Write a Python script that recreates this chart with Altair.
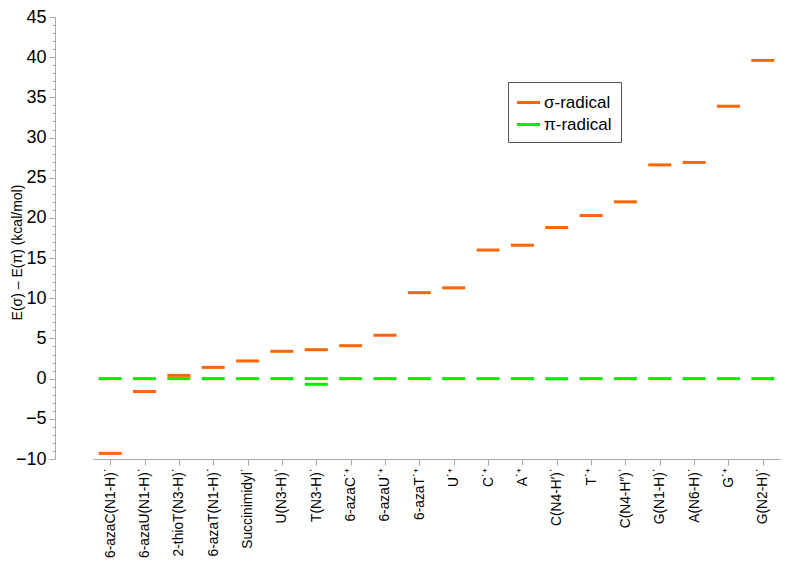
import altair as alt
import pandas as pd

categories = [
    "6-azaC(N1-H)\u02D9", "6-azaU(N1-H)\u02D9", "2-thioT(N3-H)\u02D9", "6-azaT(N1-H)\u02D9",
    "Succinimidyl\u02D9", "U(N3-H)\u02D9", "T(N3-H)\u02D9", "6-azaC\u02D9\u207A",
    "6-azaU\u02D9\u207A", "6-azaT\u02D9\u207A", "U\u02D9\u207A", "C\u02D9\u207A", "A\u02D9\u207A",
    "C(N4-H\u2032)\u02D9", "T\u02D9\u207A", "C(N4-H\u2033)\u02D9", "G(N1-H)\u02D9",
    "A(N6-H)\u02D9", "G\u02D9\u207A", "G(N2-H)\u02D9",
]
sigma_values = [-9.3, -1.6, 0.4, 1.4, 2.2, 3.4, 3.6, 4.1, 5.4, 10.7,
                11.3, 16.0, 16.6, 18.8, 20.3, 22.0, 26.6, 26.9, 33.9, 39.6]
pi_values = [0.0] * 20
pi_extra_category = ["T(N3-H)\u02D9"]
pi_extra_values = [-0.7]

rows = []
for c, v in zip(categories, sigma_values):
    rows.append({"cat": c, "val": v, "series": "σ-radical"})
for c, v in zip(categories, pi_values):
    rows.append({"cat": c, "val": v, "series": "π-radical"})
for c, v in zip(pi_extra_category, pi_extra_values):
    rows.append({"cat": c, "val": v, "series": "π-radical"})
df = pd.DataFrame(rows)

FONT = "Liberation Sans"
AXIS_GRAY = "#A8A8A8"

chart = alt.Chart(df).mark_tick(size=23, thickness=3, opacity=1).encode(
    x=alt.X("cat:N", sort=categories,
            scale=alt.Scale(type="point", range=[38, 725]),
            axis=alt.Axis(title=None, labelAngle=-90, labelFont=FONT, labelFontSize=13.8,
                          labelColor="black", labelPadding=2, tickSize=6, tickColor=AXIS_GRAY,
                          domainColor=AXIS_GRAY, grid=False, labelOverlap=False)),
    y=alt.Y("val:Q",
            scale=alt.Scale(domain=[-10, 45], nice=False, zero=False),
            axis=alt.Axis(title="E(σ) – E(π) (kcal/mol)", values=list(range(-10, 46)),
                          labelExpr="datum.value % 5 === 0 ? datum.label : ''",
                          labelOverlap=False, labelFont=FONT, labelFontSize=18,
                          labelColor="black", labelPadding=3,
                          tickSize={"condition": {"test": "datum.value % 5 === 0", "value": 6}, "value": 3},
                          tickColor=AXIS_GRAY, domainColor=AXIS_GRAY, grid=False,
                          titleFont=FONT, titleFontSize=14, titleFontWeight="normal",
                          titleColor="black", titleX=-38, titleY=235, titleAngle=270,
                          titleAlign="center", titleBaseline="middle")),
    color=alt.Color("series:N",
                    scale=alt.Scale(domain=["σ-radical", "π-radical"], range=["#FF6600", "#00EE00"]),
                    legend=alt.Legend(title=None, orient="none", legendX=453, legendY=65,
                                      symbolType="M-1,-0.13L1,-0.13L1,0.13L-1,0.13Z",
                                      symbolSize=529, symbolStrokeWidth=0, symbolOpacity=1,
                                      labelFont=FONT, labelFontSize=17, labelColor="black",
                                      padding=9, rowPadding=2, strokeColor="#555555",
                                      fillColor="white", labelOffset=4)),
).properties(
    width=737, height=442,
    padding={"left": 47, "top": 9, "right": 0, "bottom": 104},
    autosize=alt.AutoSizeParams(type="none"),
).configure_view(stroke=None)

chart.save("out.html", embed_options={"renderer": "svg", "actions": False})
